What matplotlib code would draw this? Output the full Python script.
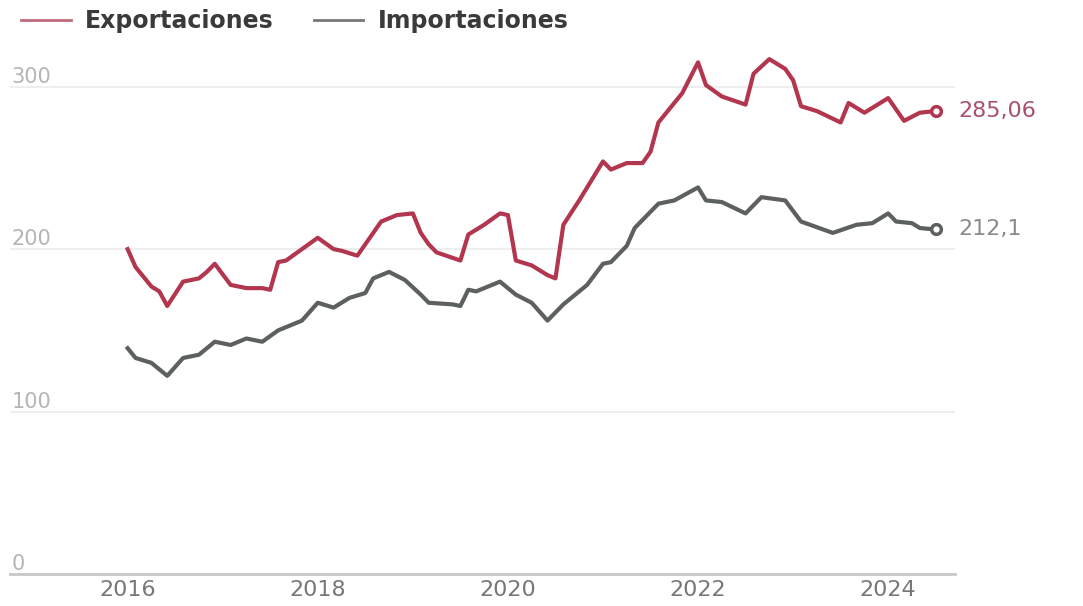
import pandas as pd
import matplotlib.pyplot as plt

# Exportaciones (fechas)
fechas_exp = ["2016-01", "2016-02", "2016-04", "2016-05", "2016-06", "2016-08", "2016-10",
              "2016-11", "2016-12", "2017-02", "2017-04", "2017-06", "2017-07", "2017-08",
              "2017-09", "2017-11", "2018-01", "2018-03", "2018-04", "2018-06", "2018-09",
              "2018-11", "2019-01", "2019-02", "2019-03", "2019-04", "2019-07", "2019-08",
              "2019-10", "2019-12", "2020-01", "2020-02", "2020-04", "2020-06", "2020-07",
              "2020-08", "2020-10", "2020-11", "2021-01", "2021-02", "2021-04", "2021-06",
              "2021-07", "2021-08", "2021-11", "2022-01", "2022-02", "2022-04", "2022-07",
              "2022-08", "2022-10", "2022-12", "2023-01", "2023-02", "2023-04", "2023-07",
              "2023-08", "2023-10", "2024-01", "2024-03", "2024-05", "2024-07"]
valores_exp = [200, 189, 177, 174, 165, 180, 182,
               186, 191, 178, 176, 176, 175, 192,
               193, 200, 207, 200, 199, 196, 217,
               221, 222, 210, 203, 198, 193, 209,
               215, 222, 221, 193, 190, 184, 182,
               215, 230, 238, 254, 249, 253, 253,
               260, 278, 296, 315, 301, 294, 289,
               308, 317, 311, 304, 288, 285, 278,
               290, 284, 293, 279, 284, 285.06]

# Importaciones
fechas_imp = ["2016-01", "2016-02", "2016-04", "2016-06", "2016-08", "2016-10", "2016-12",
              "2017-02", "2017-04", "2017-06", "2017-08", "2017-11", "2018-01", "2018-03",
              "2018-05", "2018-07", "2018-08", "2018-10", "2018-12", "2019-02", "2019-03",
              "2019-06", "2019-07", "2019-08", "2019-09", "2019-12", "2020-02", "2020-04",
              "2020-06", "2020-08", "2020-11", "2021-01", "2021-02", "2021-04", "2021-05",
              "2021-08", "2021-10", "2022-01", "2022-02", "2022-04", "2022-07", "2022-09",
              "2022-12", "2023-02", "2023-06", "2023-09", "2023-11", "2024-01", "2024-02",
              "2024-04", "2024-05", "2024-07"]
valores_imp = [139, 133, 130, 122, 133, 135, 143,
               141, 145, 143, 150, 156, 167, 164,
               170, 173, 182, 186, 181, 172, 167,
               166, 165, 175, 174, 180, 172, 167,
               156, 166, 178, 191, 192, 202, 213,
               228, 230, 238, 230, 229, 222, 232,
               230, 217, 210, 215, 216, 222, 217,
               216, 213, 212.1]

etiquetas_fin = ["285,06", "212,1"]
anios_ticks = [2016, 2018, 2020, 2022, 2024]
y_ticks = [0, 100, 200, 300]


def a_decimal(fechas):
    d = pd.to_datetime(fechas)
    return d.year + (d.month - 1) / 12


rojo = "#b3364f"
gris = "#5c615e"

fig = plt.figure(figsize=(10.83, 6.06), dpi=100)
ax = fig.add_axes([0.009, 0.0528, 0.873, 0.8845])

x_exp = a_decimal(fechas_exp)
x_imp = a_decimal(fechas_imp)

ax.plot(x_exp, valores_exp, color=rojo, lw=3, solid_joinstyle="round", zorder=3)
ax.plot(x_imp, valores_imp, color=gris, lw=3, solid_joinstyle="round", zorder=3)

# marcadores finales
ax.plot(x_exp[-1], valores_exp[-1], "o", ms=7, mfc="white", mec=rojo, mew=2.5, zorder=4)
ax.plot(x_imp[-1], valores_imp[-1], "o", ms=7, mfc="white", mec=gris, mew=2.5, zorder=4)

ax.annotate(etiquetas_fin[0], (x_exp[-1], valores_exp[-1]), xytext=(16, 0),
            textcoords="offset points", va="center", ha="left", fontsize=16,
            color="#a9506a", annotation_clip=False)
ax.annotate(etiquetas_fin[1], (x_imp[-1], valores_imp[-1]), xytext=(16, 0),
            textcoords="offset points", va="center", ha="left", fontsize=16,
            color="#8a8a8a", annotation_clip=False)

ax.set_xlim(2014.76, 2024.705)
ax.set_ylim(0, 330)

for s in ["top", "right", "left"]:
    ax.spines[s].set_visible(False)
ax.spines["bottom"].set_color("#c8c8c8")
ax.spines["bottom"].set_linewidth(2)

ax.set_yticks(y_ticks)
ax.set_yticklabels([])
ax.tick_params(axis="y", length=0)
ax.yaxis.grid(True, color="#ebebeb", lw=1.2)
ax.set_axisbelow(True)
for v in y_ticks:
    ax.text(0.002, v, str(v), transform=ax.get_yaxis_transform(), ha="left",
            va="bottom", fontsize=15, color="#b5b5b5")

ax.set_xticks(anios_ticks)
ax.set_xticklabels([str(a) for a in anios_ticks], fontsize=16, color="#777777")
ax.tick_params(axis="x", length=0, pad=4)

# leyenda
h1, = ax.plot([], [], color="#c06a7c", lw=2)
h2, = ax.plot([], [], color="#777777", lw=2)
fig.legend([h1, h2], ["Exportaciones", "Importaciones"], loc="center left",
           bbox_to_anchor=(0.0, 0.965), ncol=2, frameon=False,
           prop={"size": 17, "weight": "bold"}, labelcolor="#3a3a3a",
           handlelength=2.1, handletextpad=0.6, columnspacing=1.7)

plt.savefig("out.png", dpi=100)
